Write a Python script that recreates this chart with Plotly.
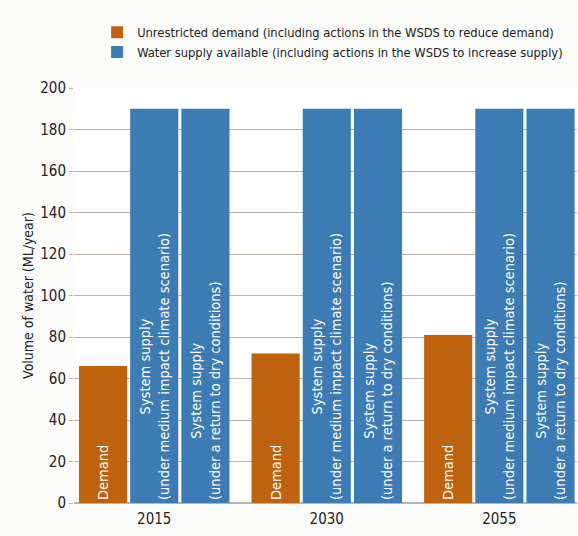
import plotly.graph_objects as go

years = ["2015", "2030", "2055"]
demand = [66, 72, 81]
supply_medium = [190, 190, 190]
supply_dry = [190, 190, 190]

demand_label = "Demand"
medium_label = "System supply<br>(under medium impact climate scenario)"
dry_label = "System supply<br>(under a return to dry conditions)"

ORANGE = "#BF620F"
BLUE = "#3C7BB3"
FONT = "DejaVu Sans Condensed, Liberation Sans Narrow, Liberation Sans, sans-serif"

fig = go.Figure()
fig.add_trace(go.Bar(
    x=years, y=demand, name="Unrestricted demand (including actions in the WSDS to reduce demand)",
    marker=dict(color=ORANGE), text=[demand_label] * 3,
))
fig.add_trace(go.Bar(
    x=years, y=supply_medium, name="Water supply available (including actions in the WSDS to increase supply)",
    marker=dict(color=BLUE), text=[medium_label] * 3,
))
fig.add_trace(go.Bar(
    x=years, y=supply_dry, name="dry", showlegend=False,
    marker=dict(color=BLUE), text=[dry_label] * 3,
))
fig.update_traces(
    textposition="inside", insidetextanchor="start", textangle=-90,
    textfont=dict(color="white", size=14.5, family=FONT),
    marker_line_width=0, hoverinfo="skip",
)

fig.update_layout(
    width=578, height=536,
    margin=dict(l=74, r=1, t=88, b=33, autoexpand=False),
    barmode="group", bargap=0.11, bargroupgap=0.06,
    plot_bgcolor="white", paper_bgcolor="#fcfcfb",
    font=dict(family=FONT, color="#222222"),
    showlegend=True,
    legend=dict(
        x=0.046, y=1.17, xanchor="left", yanchor="top",
        font=dict(size=12.8, family=FONT, color="#222222"), bgcolor="rgba(0,0,0,0)",
        tracegroupgap=0, itemwidth=30,
    ),
    xaxis=dict(
        type="category", range=[-0.465, 2.45], tickfont=dict(size=15), showgrid=False,
        zeroline=False, showline=False, ticks="", ticklabelstandoff=5,
    ),
    yaxis=dict(
        range=[0, 200], dtick=20, tickfont=dict(size=15),
        title=dict(text="Volume of water (ML/year)", font=dict(size=14), standoff=3),
        showgrid=True, gridcolor="#bfb2ab", gridwidth=1, zeroline=True, zerolinecolor="#bfb2ab",
        ticks="outside", ticklen=4, tickcolor="#bfb2ab",
    ),
)

fig.write_html("out.html", config={"displayModeBar": False},
               post_script="document.body.style.margin='0';")
